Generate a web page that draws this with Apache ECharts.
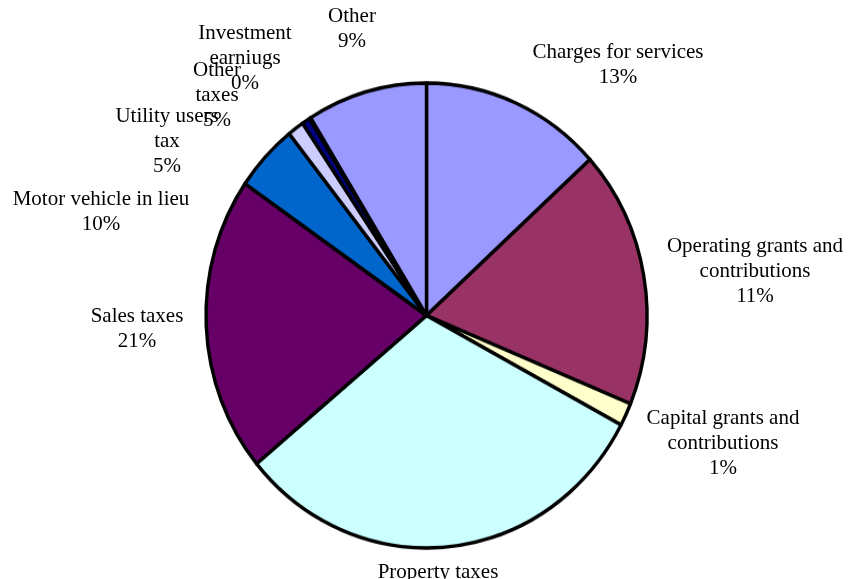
<!DOCTYPE html>
<html>
<head>
<meta charset="utf-8">
<script src="https://cdn.jsdelivr.net/npm/echarts@6/dist/echarts.min.js"></script>
<style>
html,body{margin:0;padding:0;background:#fff;}
#wrap{position:relative;width:850px;height:579px;overflow:hidden;}
#pie{position:absolute;left:0;top:0;width:850px;height:579px;transform-origin:426.5px 315.5px;transform:scaleY(1.0544);}
#labels{position:absolute;left:0;top:0;width:850px;height:579px;}
</style>
</head>
<body>
<div id="wrap"><div id="pie"></div><div id="labels"></div></div>
<script>
// Categories (in drawing order, clockwise from top)
const categories = ['Charges for services','Operating grants and contributions','Capital grants and contributions','Property taxes','Sales taxes','Motor vehicle in lieu','Utility users tax','Other taxes','Investment earniugs','Other'];
// Slice sizes (percent of circle)
const sliceValues = [13.3, 17.9, 1.6, 31.2, 20.6, 4.7, 1.2, 0.6, 0.1, 8.8];
// Percent texts as printed on the chart
const printedPercents = ['13%','11%','1%','','21%','10%','5%','5%','0%','9%'];
// Label text lines as printed
const labelLines = [
  ['Charges for services'],
  ['Operating grants and','contributions'],
  ['Capital grants and','contributions'],
  ['Property taxes'],
  ['Sales taxes'],
  ['Motor vehicle in lieu'],
  ['Utility users','tax'],
  ['Other','taxes'],
  ['Investment','earniugs'],
  ['Other']
];
const colors = ['#9999FF','#993366','#FFFFCC','#CCFFFF','#660066','#0066CC','#CCCCFF','#000080','#000080','#9999FF'];
// label placement (center x, top y)
const labelPos = [[618,40],[755,234],[723,406],[438,560],[137,304],[101,187],[167,104],[217,58],[245,21],[352,4]];

const pie = echarts.init(document.getElementById('pie'), null, {renderer:'canvas'});
pie.setOption({
  animation:false,
  series:[{
    type:'pie',
    center:[426.5,315.5],
    radius:[0,220.5],
    startAngle:90,
    clockwise:true,
    avoidLabelOverlap:false,
    label:{show:false},
    labelLine:{show:false},
    emphasis:{disabled:true},
    itemStyle:{borderColor:'#000',borderWidth:3.4},
    data: categories.map((c,i)=>({name:c,value:sliceValues[i],itemStyle:{color:colors[i]}}))
  }]
});

const lab = echarts.init(document.getElementById('labels'), null, {renderer:'canvas'});
lab.setOption({
  animation:false,
  graphic: categories.map((c,i)=>{
    const lines = labelLines[i].slice();
    if (printedPercents[i]) lines.push(printedPercents[i]);
    return {
      type:'text',
      x:labelPos[i][0], y:labelPos[i][1],
      silent:true,
      style:{
        text:lines.join('\n'),
        font:'21px "Liberation Serif"',
        fill:'#000',
        align:'center',
        verticalAlign:'top',
        lineHeight:25
      }
    };
  })
});
</script>
</body>
</html>
